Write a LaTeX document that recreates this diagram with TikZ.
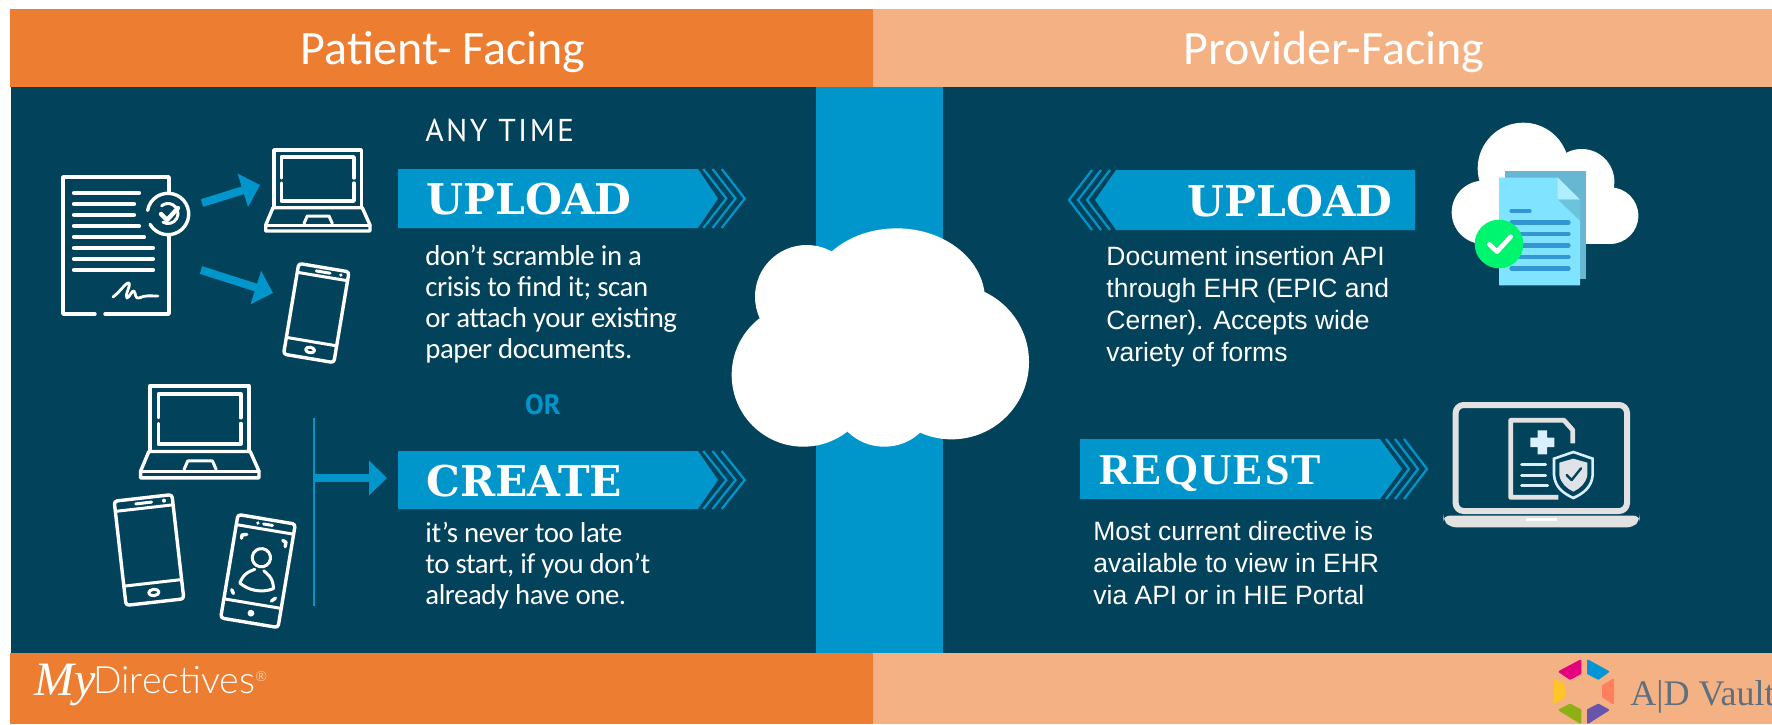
\documentclass[tikz,border=0pt]{standalone}
\usepackage{fontspec}
\usetikzlibrary{arrows.meta}
\setmainfont{Liberation Sans}
\newfontfamily\titlef{Carlito}
\newfontfamily\bodyf{PT Sans}
\newfontfamily\lightf{Lato Light}
\newfontfamily\slabf{DejaVu Serif}
\newfontfamily\romanf{Liberation Serif}
\definecolor{orangeC}{HTML}{ED7D31}
\definecolor{peachC}{HTML}{F4B183}
\definecolor{darkC}{HTML}{03425B}
\definecolor{blueC}{HTML}{0096CC}
\definecolor{vaultC}{HTML}{5E7080}
\definecolor{lapC}{HTML}{E2E2E2}
\definecolor{paleC}{HTML}{D8F0FF}
\newcommand{\phoneframe}{%
  \draw[iconline,rounded corners=1.5pt] (-25.5,-46) rectangle (25.5,46);
  \draw[thinicon] (-25.5,-37)--(25.5,-37) (-25.5,29)--(25.5,29);
}
\tikzset{
  titletext/.style={text=white,inner sep=0pt,font=\titlef\fontsize{24}{24}\selectfont},
  bannertext/.style={text=white,inner sep=0pt,anchor=base west,font=\slabf\bfseries\fontsize{21.2}{21.2}\selectfont},
  bodytext/.style={text=white,inner sep=0pt,anchor=north west,align=left,font=\titlef\fontsize{14.4}{15.5}\selectfont\addfontfeature{LetterSpace=-1.5}},
  apitext/.style={text=white,inner sep=0pt,anchor=north west,align=left,font=\fontsize{13.25}{16}\selectfont},
  banner/.style={fill=blueC},
  chevron/.style={draw=blueC,line width=1.1pt},
  bluearrow/.style={draw=blueC,line width=4pt,-{Triangle[length=9pt,width=17pt]}},
  iconline/.style={draw=white,line width=1.7pt,line join=round,line cap=round},
  thinicon/.style={draw=white,line width=1.5pt,line join=round,line cap=round},
  phoneplain/.pic={
    \phoneframe
    \draw[thinicon] (-7,-41.5)--(7,-41.5);
    \fill[white] (18,-41.5) circle[radius=1.8];
    \draw[thinicon] (0,37.5) ellipse[x radius=4.5,y radius=2.8];
  },
  phoneface/.pic={
    \phoneframe
    \fill[white] (-7,-41.5) circle[radius=1.6];
    \draw[thinicon] (-2,-41.5)--(6,-41.5);
    \fill[white] (0,37.5) circle[radius=3];
    \draw[thinicon] (1,-12) circle[radius=8];
    \draw[thinicon] (-14,13) .. controls (-12,3) and (-6,1) .. (-3,-1)
       (5,-1) .. controls (8,1) and (14,3) .. (16,13) .. controls (6,19) and (-6,18) .. (-14,13);
    \draw[iconline] (-19,-26)--(-19,-29)--(-15,-30) (17,-30)--(20,-29)--(20,-25)
                    (-20,20)--(-18,23) (16,24)--(19,21);
  },
  laptopicon/.pic={
    \draw[iconline] (0,57.7)--(0,0)--(87.3,0)--(87.3,57.7);
    \draw[iconline] (7.3,28)--(7.3,7)--(80,7)--(80,28)
                    (80,33)--(80,51)--(7.3,51)--(7.3,33);
    \draw[iconline] (-1,57.7)--(88.3,57.7)--(96,75)--(96,81)--(-8.3,81)--(-8.3,75)--cycle;
    \draw[thinicon] (-8.3,75.5)--(96,75.5);
    \draw[thinicon] (30,73.5)--(33.3,66)--(55,66)--(58.3,73.5);
  },
}
\begin{document}
\begin{tikzpicture}[x=0.5pt,y=-0.5pt]
\useasboundingbox (0,0) rectangle (1772,724);
\fill[white] (0,0) rectangle (1772,724);
% bands
\fill[orangeC] (10,9) rectangle (873,87);
\fill[peachC] (873,9) rectangle (1772,87);
\fill[darkC] (11,87) rectangle (1772,653);
\fill[blueC] (816,87) rectangle (943,653);
\fill[orangeC] (10,653) rectangle (873,724);
\fill[peachC] (873,653) rectangle (1772,724);
\node[titletext] (patient) at (443,52) {Patient- Facing};
\node[titletext] (provider) at (1334,52) {Provider-Facing};
% central cloud
\begin{scope}[shift={(700,200)},x=0.16667pt,y=-0.16667pt]
\fill[white] (590,300) ellipse[x radius=265,y radius=215]
  (320,290) circle[radius=155]
  (310,525) circle[radius=215]
  (553,600) ellipse[x radius=150,y radius=140]
  (755,486) circle[radius=232];
\fill[white] (320,290) rectangle (755,560);
\end{scope}
% left banners
\fill[banner] (398,169) -- (698,169) -- (718,198.5) -- (698,228) -- (398,228) -- cycle;
\fill[banner] (398,451) -- (698,451) -- (718,480) -- (698,509) -- (398,509) -- cycle;
\foreach \a in {703.3,712.5,721.7}{
  \draw[chevron] (\a,169) -- ({\a+23},198.5) -- (\a,228);
  \draw[chevron] (\a,451) -- ({\a+23},480) -- (\a,509);
}
% right banners
\fill[banner] (1415,170) -- (1116,170) -- (1095,200) -- (1116,230) -- (1415,230) -- cycle;
\fill[banner] (1080,439) -- (1380,439) -- (1402,469) -- (1380,499) -- (1080,499) -- cycle;
\foreach \a in {1110,1101,1092}{
  \draw[chevron] (\a,170) -- ({\a-23},200) -- (\a,230);
}
\foreach \a in {1386,1395,1404}{
  \draw[chevron] (\a,439) -- ({\a+23},469) -- (\a,499);
}
% left texts
\node[inner sep=0pt,anchor=base west,text=white,font=\bodyf\fontsize{15.8}{16}\selectfont\addfontfeature{LetterSpace=7.5}] (anytime) at (425,141) {ANY TIME};
\node[bannertext] (uploadL) at (426,214) {UPLOAD};
\node[bodytext] (uploadBody) at (425,245) {don’t scramble in a\\crisis to find it; scan\\or attach your existing\\paper documents.};
\node[inner sep=0pt,anchor=base,text=blueC,font=\bodyf\bfseries\fontsize{14}{14}\selectfont] (orword) at (543,414) {OR};
\node[bannertext] (create) at (426,496) {CREATE};
\node[bodytext] (createBody) at (425,522) {it’s never too late\\to start, if you don’t\\already have one.};
% right texts
\node[bannertext] (uploadR) at (1187,216) {UPLOAD};
\node[apitext] (uploadApi) at (1106,246) {Document insertion API\\through EHR (EPIC and\\Cerner). Accepts wide\\variety of forms};
\node[inner sep=0pt,anchor=base west,text=white,font=\romanf\bfseries\fontsize{22}{22}\selectfont\addfontfeature{LetterSpace=4.2}] (request) at (1099,484) {REQUEST};
\node[apitext] (requestApi) at (1093,521) {Most current directive is\\available to view in EHR\\via API or in HIE Portal};
% document icon
\draw[iconline] (169,192)--(169,177)--(63,177)--(63,314)--(95,314) (105,314)--(169,314)--(169,235);
\foreach \yy/\xx in {193/139,204/134,215/134,226/139,237/144,248/153,259/153,270/153}{
  \draw[draw=white,line width=2.1pt,line cap=round] (74,\yy)--(\xx,\yy);
}
\draw[iconline] (168,214) ++(150:20.7) arc[start angle=150,end angle=-170,radius=20.7];
\draw[thinicon] (168,213.5) ++(120:10) arc[start angle=120,end angle=-130,radius=10];
\draw[draw=white,line width=2.2pt,line cap=round,line join=round] (161,214)--(167,220)--(178,208);
\draw[draw=white,line width=1.4pt,line cap=round,line join=round] (113,297) .. controls (120,292) and (126,282) .. (129,283)
  .. controls (131,286) and (124,296) .. (127,298) .. controls (130,297) and (132,290) .. (134,291)
  .. controls (136,294) and (135,299) .. (139,298) .. controls (145,295) and (150,296) .. (158,296);
% upload arrows
\coordinate (a1s) at (202,203);
\coordinate (a1e) at (260,185);
\coordinate (a2s) at (201,270);
\coordinate (a2e) at (273,293);
\draw[bluearrow] (a1s)--(a1e);
\draw[bluearrow] (a2s)--(a2e);
\pic at (274,150) {laptopicon};
\pic[rotate=-9.5] at (316.3,313) {phoneplain};
% create group
\pic[scale=1.135] at (150,386) {laptopicon};
\pic[scale=1.14,rotate=6.5] at (149,550) {phoneplain};
\pic[scale=1.14,rotate=-9.5] at (258,571) {phoneface};
\coordinate (vt) at (314,418);
\coordinate (vb) at (314,606);
\coordinate (vm) at (314,478);
\coordinate (ve) at (387,478);
\draw[draw=blueC,line width=1pt] (vt)--(vb);
\draw[bluearrow] (vm)--(ve);
% cloud with document
\begin{scope}[shift={(1400,100)},x=0.16667pt,y=-0.16667pt]
\fill[white] (370,205) circle[radius=137] (545,245) circle[radius=98]
  (250,337) circle[radius=95] (630,347) circle[radius=85];
\fill[white] (250,300) rectangle (630,432);
\fill[white] (370,205) rectangle (545,300);
\fill[color={rgb,255:red,104;green,183;blue,210}] (315,212) rectangle (557,538);
\fill[color={rgb,255:red,128;green,227;blue,255}] (297,233)--(473,233)--(540,298)--(540,556)--(297,556)--cycle;
\fill[color={rgb,255:red,108;green,195;blue,220}] (473,298)--(540,298)--(540,362)--cycle;
\fill[color={rgb,255:red,176;green,238;blue,255}] (473,233)--(538,298)--(473,298)--cycle;
\foreach \yy/\xx in {333/388,367/505,402/505,437/505,471/505,506/505}{
  \draw[draw={rgb,255:red,50;green,150;blue,210},line width=2.3pt,line cap=round] (335,\yy)--(\xx,\yy);
}
\fill[color={rgb,255:red,0;green,245;blue,111}] (297,432) circle[radius=73];
\draw[draw=white,line width=2.3pt,line cap=round,line join=round] (268,433)--(291,455)--(332,410);
\end{scope}
% laptop right
\begin{scope}[shift={(1400,380)},x=0.16667pt,y=-0.16667pt]
\draw[draw=lapC,line width=3pt,rounded corners=4pt] (167,75) rectangle (681,393);
\fill[fill=lapC,rounded corners=3pt] (130,407)--(719,407)--(719,420)--(700,442)--(150,442)--(130,420)--cycle;
\fill[white] (378,414) rectangle (470,422);
\draw[draw=lapC,line width=2.4pt,line join=round] (475,352)--(332,352)--(332,121)--(492,121)--(518,150)--(518,190);
\fill[fill=paleC] (413,151) rectangle (441,223) (391,173) rectangle (463,201);
\draw[draw=paleC,line width=1.5pt,line cap=round] (365,254)--(437,254) (365,285)--(437,285) (365,317)--(443,317);
\fill[darkC] (458,236)--(520,212)--(583,236)--(583,285) .. controls (580,325) and (550,345) .. (520,360) .. controls (490,345) and (460,325) .. (458,285)--cycle;
\draw[draw=paleC,line width=1.3pt] (462,236)--(520,216)--(578,236)--(578,285) .. controls (575,322) and (550,340) .. (520,354) .. controls (490,340) and (465,322) .. (462,285)--cycle;
\fill[color={rgb,255:red,223;green,227;blue,232}] (478,248)--(520,236)--(562,248)--(562,285) .. controls (558,310) and (540,325) .. (520,335) .. controls (500,325) and (482,310) .. (478,285)--cycle;
\draw[draw=darkC,line width=1.2pt,line cap=round,line join=round] (500,285)--(515,300)--(543,265);
\end{scope}
% footer logos
\node[inner sep=0pt,anchor=base west,text=white,font=\romanf\itshape\fontsize{24}{24}\selectfont] (my) at (34,695) {My};
\node[inner sep=0pt,anchor=base west,text=white,font=\lightf\fontsize{18.8}{18.8}\selectfont] (directives) at (93,693) {Directives\raisebox{6pt}{\fontsize{7}{7}\selectfont ®}};
\begin{scope}[shift={(1400,380)},x=0.16667pt,y=-0.16667pt]
\foreach \col/\pts in {E6007E/{(541,842)--(541,880)--(510,896)--(479,875)},
                       0096D6/{(564,842)--(624,875)--(595,896)--(564,880)},
                       FF7F5F/{(639,899)--(639,969)--(609,950)--(609,918)},
                       6655AA/{(624,990)--(564,1028)--(564,990)--(595,974)},
                       8DB014/{(541,1028)--(479,990)--(510,974)--(541,990)},
                       FFC425/{(464,899)--(493,918)--(493,950)--(464,969)}}{
  \definecolor{hexC}{HTML}{\col}
  \filldraw[fill=hexC,draw=hexC,line width=1pt,line join=round] \pts--cycle;
}
\end{scope}
\node[inner sep=0pt,anchor=base west,text=vaultC,font=\romanf\fontsize{18}{18}\selectfont] (vault) at (1630,705) {A|D Vault};
\end{tikzpicture}
\end{document}
